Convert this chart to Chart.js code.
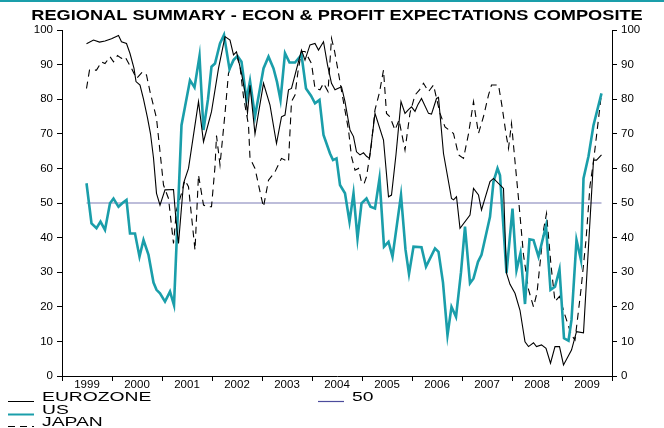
<!DOCTYPE html>
<html>
<head>
<meta charset="utf-8">
<script src="https://cdn.jsdelivr.net/npm/chart.js@4/dist/chart.umd.min.js"></script>
<style>
  html, body { margin: 0; padding: 0; background: #fff; }
  #wrap { width: 664px; height: 428px; position: relative; }
</style>
</head>
<body>
<div id="wrap"><canvas id="chart" width="664" height="428"></canvas></div>
<script>
const TITLE = 'REGIONAL SUMMARY - ECON & PROFIT EXPECTATIONS COMPOSITE';
const TEAL = '#1a9eaa';
const FONT = '"Liberation Sans", Arial, sans-serif';

// year ticks (tick marks on whole years, labels in the middle of each year)
const yearTicks = [1999, 2000, 2001, 2002, 2003, 2004, 2005, 2006, 2007, 2008, 2009, 2010];
const yearLabels = [1999, 2000, 2001, 2002, 2003, 2004, 2005, 2006, 2007, 2008, 2009];

const euroYears = [1999.49, 1999.63, 1999.75, 1999.86, 1999.99, 2000.13, 2000.19, 2000.29, 2000.36, 2000.44, 2000.48, 2000.56, 2000.63, 2000.71, 2000.77, 2000.83, 2000.89, 2000.96, 2001.06, 2001.23, 2001.28, 2001.33, 2001.43, 2001.53, 2001.73, 2001.83, 2001.99, 2002.13, 2002.26, 2002.36, 2002.43, 2002.49, 2002.59, 2002.66, 2002.71, 2002.76, 2002.86, 2003.03, 2003.16, 2003.29, 2003.39, 2003.46, 2003.53, 2003.59, 2003.79, 2003.86, 2003.96, 2004.06, 2004.13, 2004.23, 2004.31, 2004.39, 2004.46, 2004.59, 2004.66, 2004.76, 2004.83, 2004.89, 2004.96, 2005.03, 2005.09, 2005.15, 2005.26, 2005.43, 2005.53, 2005.59, 2005.68, 2005.78, 2005.86, 2005.93, 2005.99, 2006.06, 2006.12, 2006.19, 2006.33, 2006.39, 2006.49, 2006.53, 2006.63, 2006.79, 2006.83, 2006.89, 2006.96, 2007.16, 2007.23, 2007.33, 2007.39, 2007.56, 2007.63, 2007.83, 2007.89, 2007.96, 2008.06, 2008.16, 2008.26, 2008.33, 2008.43, 2008.49, 2008.59, 2008.68, 2008.77, 2008.86, 2008.95, 2009.03, 2009.19, 2009.29, 2009.43, 2009.63, 2009.69, 2009.79];
const euroValues = [96.0, 97.1, 96.5, 96.8, 97.5, 98.4, 96.6, 96.1, 93.2, 88.9, 85.1, 84.1, 80, 74.6, 70, 63, 52.8, 49.4, 53.8, 53.9, 45, 38.3, 55.7, 60, 79.3, 67.7, 76.4, 88.9, 98.1, 97.1, 92.8, 93.7, 87.5, 82, 76, 84, 70, 84.6, 78.3, 67.2, 74.9, 75.4, 82.7, 83.1, 94.2, 91.3, 95.7, 96.1, 94.2, 96.6, 89.9, 84.6, 82.7, 83.6, 79.3, 71.1, 69.2, 64.8, 63.9, 64.5, 63.5, 62.9, 75.9, 68.2, 51.8, 52.3, 64, 79.3, 75.9, 77, 77.8, 76.5, 78.5, 80.2, 75.9, 75.7, 80.2, 80.5, 64.3, 51.3, 50.9, 51.8, 42.7, 46.5, 54.2, 52.3, 48, 56.2, 57.1, 54.2, 29.7, 26.5, 23.9, 19, 9.9, 8.5, 9.6, 8.5, 9, 8, 3.7, 8.5, 8.5, 3.2, 7.5, 12.8, 12.5, 62.4, 62.4, 63.9];

const usYears = [1999.49, 1999.59, 1999.69, 1999.77, 1999.86, 1999.96, 2000.03, 2000.13, 2000.21, 2000.29, 2000.36, 2000.46, 2000.55, 2000.63, 2000.73, 2000.83, 2000.89, 2000.96, 2001.06, 2001.16, 2001.24, 2001.39, 2001.46, 2001.56, 2001.65, 2001.75, 2001.83, 2001.92, 2001.99, 2002.06, 2002.16, 2002.24, 2002.35, 2002.43, 2002.51, 2002.59, 2002.69, 2002.76, 2002.86, 2003.03, 2003.13, 2003.23, 2003.3, 2003.37, 2003.46, 2003.55, 2003.66, 2003.79, 2003.88, 2003.98, 2004.06, 2004.15, 2004.23, 2004.36, 2004.42, 2004.49, 2004.56, 2004.66, 2004.75, 2004.83, 2004.91, 2004.99, 2005.09, 2005.17, 2005.26, 2005.35, 2005.44, 2005.53, 2005.61, 2005.78, 2005.87, 2005.94, 2006.03, 2006.19, 2006.28, 2006.46, 2006.53, 2006.62, 2006.71, 2006.79, 2006.88, 2006.98, 2007.06, 2007.16, 2007.23, 2007.32, 2007.39, 2007.56, 2007.63, 2007.71, 2007.76, 2007.89, 2008.01, 2008.09, 2008.17, 2008.26, 2008.35, 2008.43, 2008.53, 2008.68, 2008.77, 2008.86, 2008.95, 2009.04, 2009.13, 2009.19, 2009.29, 2009.38, 2009.43, 2009.53, 2009.63, 2009.79];
const usValues = [55.7, 44.1, 42.7, 44.6, 42.2, 49.9, 51.3, 48.9, 50, 50.9, 41.2, 41.2, 34.5, 39.3, 35, 27, 24.9, 23.9, 21.5, 24.4, 20.5, 72.5, 77.8, 85.5, 83.4, 92.5, 71.1, 80, 89.4, 90.3, 96.1, 98.6, 88.7, 91.3, 92.5, 90.8, 79.8, 85.3, 75, 88.9, 92.3, 88.9, 85, 79.8, 93.3, 90.6, 90.6, 92.8, 83.1, 81, 78.8, 79.8, 69.7, 64.3, 62.4, 62.9, 55.2, 52.8, 44.6, 52.8, 39.8, 49.9, 51.3, 48.9, 48.4, 57.1, 37.4, 38.8, 34.5, 52.3, 36.5, 29.5, 37.4, 37.2, 31.6, 36.9, 35.9, 27, 11.8, 20, 17.1, 30, 43.2, 26.8, 28.2, 33, 35, 46, 56.2, 60, 58, 29.7, 48.4, 30.6, 35.5, 20.8, 39.5, 39.3, 34.5, 43.4, 24.9, 25.8, 30.8, 10.9, 10.2, 16.2, 39.3, 33.5, 57.1, 63.5, 72.5, 81.7];

const japanYears = [1999.49, 1999.55, 1999.64, 1999.69, 1999.79, 1999.86, 1999.96, 2000.03, 2000.11, 2000.19, 2000.26, 2000.39, 2000.49, 2000.61, 2000.69, 2000.76, 2000.89, 2001.03, 2001.13, 2001.23, 2001.29, 2001.39, 2001.46, 2001.53, 2001.66, 2001.73, 2001.83, 2001.93, 2001.99, 2002.06, 2002.09, 2002.16, 2002.26, 2002.33, 2002.42, 2002.49, 2002.56, 2002.63, 2002.73, 2002.76, 2002.86, 2002.99, 2003.03, 2003.13, 2003.26, 2003.39, 2003.53, 2003.59, 2003.66, 2003.72, 2003.79, 2003.86, 2003.99, 2004.06, 2004.16, 2004.23, 2004.32, 2004.39, 2004.45, 2004.53, 2004.62, 2004.73, 2004.79, 2004.86, 2004.93, 2004.99, 2005.04, 2005.09, 2005.18, 2005.26, 2005.35, 2005.43, 2005.49, 2005.56, 2005.66, 2005.74, 2005.86, 2005.96, 2006.06, 2006.15, 2006.23, 2006.33, 2006.43, 2006.56, 2006.66, 2006.83, 2006.93, 2007.03, 2007.13, 2007.23, 2007.33, 2007.43, 2007.53, 2007.59, 2007.73, 2007.8, 2007.88, 2007.93, 2007.99, 2008.06, 2008.13, 2008.23, 2008.33, 2008.43, 2008.5, 2008.63, 2008.69, 2008.78, 2008.86, 2008.95, 2009.05, 2009.19, 2009.26, 2009.38, 2009.48, 2009.56, 2009.63, 2009.79];
const japanValues = [83.1, 88.4, 88.4, 88.4, 90.8, 90.3, 92.3, 90.8, 92.6, 91.8, 92.3, 88.9, 86, 87.9, 87, 82.2, 74.5, 55.2, 51.3, 38.3, 48, 52.8, 56.6, 54.7, 36.4, 58.1, 49.4, 48.9, 48.9, 60.5, 69.5, 61, 75.9, 87.5, 91, 92.8, 89.4, 80.7, 72.5, 62.9, 60, 51.3, 48.9, 56.6, 59, 62.9, 61.9, 79.3, 81.2, 88, 93.8, 93.8, 90.3, 83.1, 82.7, 84.6, 82.2, 97.6, 94, 87.5, 80, 71.1, 63.4, 59.5, 60, 56, 55.5, 57.6, 66, 76.9, 82, 88.4, 75.9, 74.9, 71.1, 74, 65.3, 76, 81.2, 82.7, 84.6, 82.2, 84.1, 75.9, 72, 70.1, 63.9, 62.9, 70, 79.3, 70.1, 75, 81.2, 84.1, 84.1, 78, 70, 65.8, 73, 62, 51.3, 35, 25, 20, 24, 42.2, 47, 32, 21.5, 23, 18, 11.8, 10.4, 25, 39.3, 55, 62, 81.7];

const fiftyYears = [1999.49, 2009.79];
const fiftyValues = [50, 50];

const legendItems = [
  { label: 'EUROZONE', color: '#000', width: 1, dash: [], col: 0, row: 0 },
  { label: 'US', color: TEAL, width: 2, dash: [], col: 0, row: 1 },
  { label: 'JAPAN', color: '#000', width: 1, dash: [7, 5], col: 0, row: 2 },
  { label: '50', color: '#4b4b9c', width: 1.2, dash: [], col: 1, row: 0 }
];

function pairs(xs, ys) {
  return xs.map((x, i) => ({ x: x, y: ys[i] }));
}

const decor = {
  id: 'decor',
  afterDraw(chart) {
    const ctx = chart.ctx;
    ctx.save();
    ctx.fillStyle = TEAL;
    ctx.fillRect(0, 0, 664, 2);

    ctx.fillStyle = '#000';
    ctx.font = 'bold 14px ' + FONT;
    ctx.textAlign = 'center';
    ctx.textBaseline = 'alphabetic';
    ctx.save();
    ctx.translate(337, 20);
    ctx.scale(1.3, 1);
    ctx.fillText(TITLE, 0, 0);
    ctx.restore();

    // legend, two columns under the axis
    ctx.font = '13.5px ' + FONT;
    ctx.textAlign = 'left';
    legendItems.forEach(item => {
      const x0 = item.col === 0 ? 8 : 318;
      const y = 401 + item.row * 12.5;
      const ly = Math.round(y) + 0.5;
      ctx.strokeStyle = item.color;
      ctx.lineWidth = item.width;
      ctx.setLineDash(item.dash);
      ctx.beginPath();
      ctx.moveTo(x0, ly);
      ctx.lineTo(x0 + 26, ly);
      ctx.stroke();
      ctx.setLineDash([]);
      ctx.save();
      ctx.translate(x0 + 34, y);
      ctx.scale(1.43, 1);
      ctx.fillStyle = '#000';
      ctx.fillText(item.label, 0, 0);
      ctx.restore();
    });
    ctx.restore();
  }
};

const tickFont = { family: FONT, size: 11.5 };

const yAxis = (position, width) => ({
  type: 'linear',
  position: position,
  min: 0,
  max: 100,
  ticks: { stepSize: 10, color: '#000', font: tickFont, padding: 4 },
  grid: { drawOnChartArea: false, tickLength: 5, color: '#000' },
  border: { display: true, color: '#000', width: 1 },
  afterFit: scale => { scale.width = width; }
});

const ctx = document.getElementById('chart').getContext('2d');
const chart = new Chart(ctx, {
  type: 'line',
  data: {
    datasets: [
      { label: 'EUROZONE', data: pairs(euroYears, euroValues), borderColor: '#000', borderWidth: 1.1 },
      { label: 'US', data: pairs(usYears, usValues), borderColor: TEAL, borderWidth: 2.6 },
      { label: 'JAPAN', data: pairs(japanYears, japanValues), borderColor: '#000', borderWidth: 1.1, borderDash: [7, 5] },
      { label: '50', data: pairs(fiftyYears, fiftyValues), borderColor: '#7c7cb6', borderWidth: 1.2 }
    ]
  },
  options: {
    responsive: false,
    animation: false,
    events: [],
    elements: { point: { radius: 0 }, line: { tension: 0, fill: false } },
    layout: { padding: { top: 30, right: 0, bottom: 32, left: 0 } },
    scales: {
      x: {
        type: 'linear',
        min: 1999,
        max: 2010,
        afterBuildTicks: axis => {
          const t = yearTicks.map(v => ({ value: v }));
          yearLabels.forEach(v => t.push({ value: v + 0.5 }));
          t.sort((a, b) => a.value - b.value);
          axis.ticks = t;
        },
        ticks: {
          autoSkip: false,
          maxRotation: 0,
          color: '#000',
          font: tickFont,
          padding: -3,
          callback: v => (yearLabels.includes(v - 0.5) ? String(v - 0.5) : '')
        },
        grid: {
          drawOnChartArea: false,
          tickLength: 5,
          tickColor: c => (c.tick && Number.isInteger(c.tick.value) ? '#000' : 'rgba(0,0,0,0)')
        },
        border: { display: true, color: '#000', width: 1 },
        afterFit: scale => { scale.height = 20; }
      },
      y: yAxis('left', 62),
      y2: yAxis('right', 52)
    },
    plugins: {
      legend: { display: false },
      tooltip: { enabled: false },
      title: { display: false }
    }
  },
  plugins: [decor]
});
</script>
</body>
</html>
